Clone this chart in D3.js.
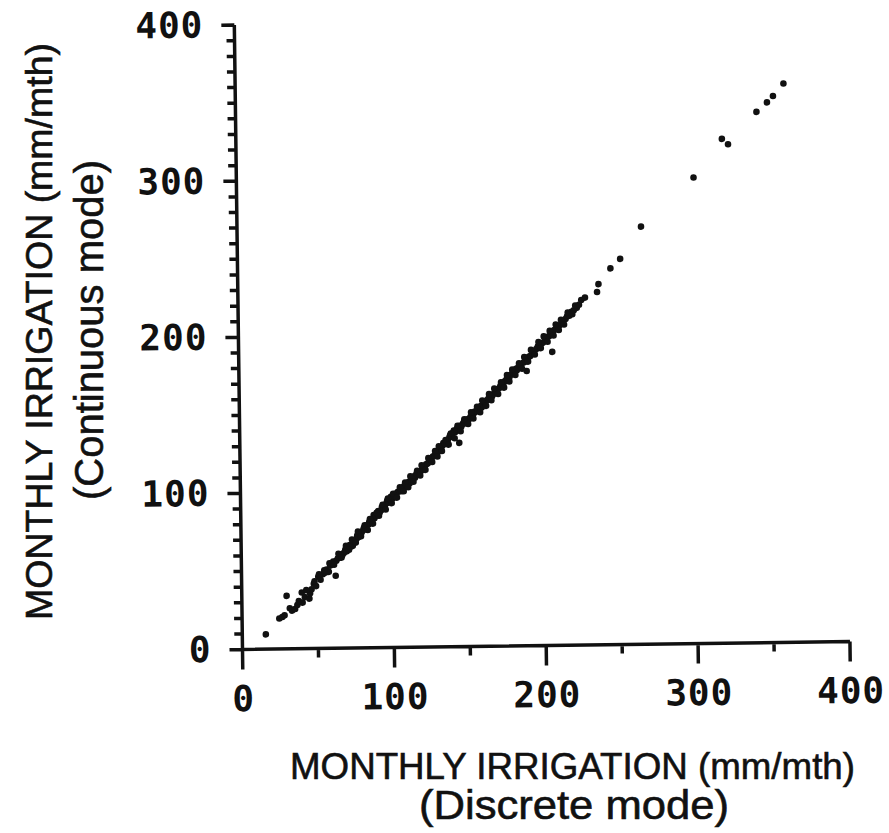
<!DOCTYPE html>
<html>
<head>
<meta charset="UTF-8">
<script src="https://d3js.org/d3.v7.min.js"></script>
<style>
body { margin: 0; background: #fff; }
.tick-label { font-family: "DejaVu Sans Mono", monospace; font-weight: bold; font-size: 36px; fill: #111; letter-spacing: 1px; }
.title { font-family: "Liberation Sans", Arial, sans-serif; fill: #111; stroke: #111; stroke-width: 0.6px; }
</style>
</head>
<body>
<svg width="889" height="833"></svg>
<script>

// monthly irrigation, mm/mth
var discreteMode = [
  15.5, 24.5, 26.5, 28, 29.5, 31.5, 33, 35, 36.5, 40,
  39.5, 41.5, 44.5, 45, 46, 47.5, 49, 50.5, 52, 53.5,
  55, 56, 57.5, 58.5, 60.5, 62, 62.5, 63.5, 64.5, 65.5,
  66.5, 67.5, 68.5, 69.5, 70.5, 71.5, 72.5, 73.5, 74, 75,
  76, 76.5, 77.5, 78.5, 79.5, 80.5, 81, 82, 83, 84,
  84.5, 85.5, 86.5, 87.5, 88, 89, 90, 90.5, 91.5, 92.5,
  93, 94, 95, 96, 96.5, 97.5, 98.5, 99, 100, 101,
  102, 102.5, 103.5, 104.5, 105.5, 106, 107, 108, 109, 110,
  111, 111.5, 112.5, 113.5, 114.5, 115, 116, 117, 118, 119,
  120, 120.5, 121.5, 122.5, 123.5, 124.5, 125, 126, 127, 128,
  129, 129.5, 130.5, 131.5, 132.5, 133.5, 134, 135, 136, 137,
  138, 138.5, 139.5, 140.5, 141, 142, 143, 144, 144.5, 145,
  146, 147, 147.5, 148.5, 149.5, 150, 151, 152, 153, 153.5,
  154.5, 155, 156, 157, 158, 159, 159.5, 160.5, 161, 162,
  163, 164, 165, 165.5, 166.5, 167.5, 168.5, 169.5, 170, 171,
  172, 173, 174, 175, 176, 177, 178, 178.5, 179.5, 180.5,
  181.5, 182.5, 183, 184, 185, 186, 187.5, 188.5, 189.5, 190,
  191, 192, 193.5, 194.5, 196, 197, 198, 199.5, 200.5, 202,
  203, 204.5, 205.5, 206.5, 207, 208, 209.5, 210.5, 211.5, 213,
  214, 215.5, 216.5, 218, 219.5, 221, 223, 226, 228.5, 236.5,
  237.5, 245.5, 252, 266, 301, 320, 324, 343, 350, 354,
  361,
  37.5, 42.5, 48, 51, 54.5, 58, 61, 64, 66, 69,
  71, 73, 75.5, 77, 79, 81.5, 83.5, 85, 87, 89.5,
  91, 93.5, 95.5, 97, 99.5, 100.5, 103, 105, 107.5, 108.5,
  110.5, 112, 114, 116.5, 118.5, 119.5, 122, 124, 126.5, 128.5,
  130, 131, 133, 135.5, 137.5, 139, 141.5, 143.5, 145.5, 148,
  150.5, 152.5, 154, 156.5, 158.5, 160, 162.5, 164.5, 166, 168,
  170.5, 172.5, 174.5, 176.5, 178, 180, 182, 184.5, 186.5, 188,
  190.5, 192.5, 195, 197.5, 199, 201, 203.5, 205, 207.5, 209,
  211, 212.5, 214.5, 217, 220, 222, 224.5
];

var continuousMode = [
  9.5, 19.5, 20.5, 21.5, 34, 26, 24.5, 25.5, 28, 29.5,
  36, 33, 32, 35.5, 38, 41.5, 40, 46, 44, 47.5,
  48.5, 50.5, 49, 53, 55.5, 46.5, 56, 57.5, 58, 60,
  59.5, 61, 63, 62, 64.5, 66, 65, 65.5, 68.5, 69,
  70, 72, 71, 73.5, 74, 75.5, 77, 76, 78.5, 79,
  80.5, 80, 82, 85, 83, 84.5, 86, 87.5, 86.5, 88,
  90, 89.5, 91, 92.5, 94, 93, 95, 96.5, 95.5, 97,
  98.5, 96.5, 99.5, 100, 101.5, 100, 102.5, 103.5, 104, 104.5,
  106, 105, 107.5, 108, 109.5, 108.5, 111, 111.5, 112.5, 113,
  114.5, 113.5, 116, 117, 117.5, 119, 120.5, 120, 122, 122.5,
  124, 125.5, 125, 127, 127.5, 129, 130.5, 130, 132, 132.5,
  134, 135.5, 135, 137, 138.5, 137.5, 139.5, 140, 130.5, 141.5,
  141, 142.5, 143.5, 143, 144.5, 145.5, 145.5, 147, 148.5, 147.5,
  149.5, 150.5, 150.5, 152, 152.5, 154, 153, 155, 156.5, 156,
  157.5, 158.5, 159, 160.5, 160, 161.5, 163, 162.5, 164.5, 165,
  166.5, 167.5, 168, 169.5, 170.5, 171.5, 172, 173.5, 174, 175,
  176, 177.5, 176.5, 178.5, 179.5, 180, 181.5, 182, 176, 184,
  185, 185.5, 187.5, 188, 190, 191.5, 192, 193.5, 194, 196,
  197.5, 198, 199.5, 188, 200.5, 202, 203, 204.5, 205, 206.5,
  208, 209, 210.5, 211, 213.5, 214.5, 216, 221, 222.5, 226,
  231, 241, 247, 267.5, 298.5, 323, 319.5, 340, 346, 350,
  358,
  30.5, 37.5, 43, 47.5, 50, 54.5, 53.5, 60.5, 58, 65.5,
  63, 69.5, 67.5, 74.5, 71.5, 78.5, 75.5, 82.5, 79.5, 86.5,
  84.5, 91.5, 88.5, 95.5, 92.5, 98.5, 96, 102.5, 100, 105.5,
  102.5, 109.5, 106, 113, 110, 116.5, 113.5, 121, 118.5, 125.5,
  122, 128.5, 125.5, 132.5, 129.5, 136.5, 133.5, 141.5, 138, 145.5,
  142.5, 150, 146, 153.5, 150, 157.5, 154, 161.5, 157.5, 165,
  161.5, 169, 165.5, 173.5, 169.5, 177, 173.5, 181, 177.5, 185,
  182, 189.5, 186.5, 194.5, 190.5, 198, 194.5, 201.5, 198.5, 205.5,
  202, 208.5, 205.5, 213, 212, 217.5, 218
];

var majorTicks = [0, 100, 200, 300, 400];
var xMinorTicks = [50, 150, 250, 350];
var yMinorTicks = [10, 20, 30, 40, 50, 60, 70, 80, 90, 110, 120, 130, 140, 150, 160, 170, 180, 190,
                   210, 220, 230, 240, 250, 260, 270, 280, 290, 310, 320, 330, 340, 350, 360, 370, 380, 390];

var svg = d3.select("svg"),
    origin = {x: 242.5, y: 649.5};

var x = d3.scaleLinear().domain([0, 400]).range([origin.x, 850]);
var y = d3.scaleLinear().domain([0, 400]).range([origin.y, 25]);

// the scan is tilted a little, so the whole plot is turned with it
var g = svg.append("g")
    .attr("transform", "rotate(-0.75," + origin.x + "," + origin.y + ")");

// tick labels only, from d3's axes
g.append("g")
    .attr("transform", "translate(" + origin.x + ",0)")
    .call(d3.axisLeft(y).tickValues(majorTicks).tickSize(13).tickPadding(18))
    .call(function(a) { a.select(".domain").remove(); a.selectAll(".tick line").remove(); })
  .selectAll("text")
    .attr("class", "tick-label");

g.append("g")
    .attr("transform", "translate(0," + origin.y + ")")
    .call(d3.axisBottom(x).tickValues(majorTicks).tickSize(20).tickPadding(16))
    .call(function(a) { a.select(".domain").remove(); a.selectAll(".tick line").remove(); })
  .selectAll("text")
    .attr("class", "tick-label");

// axis lines and tick marks in one path
var axisPath = d3.path();
axisPath.moveTo(x(0), y(400));
axisPath.lineTo(x(0), y(0));
axisPath.lineTo(x(400), y(0));
majorTicks.forEach(function(d) {
  axisPath.moveTo(x(0), y(d)); axisPath.lineTo(x(0) - 13, y(d));
  axisPath.moveTo(x(d), y(0)); axisPath.lineTo(x(d), y(0) + 20);
});
yMinorTicks.forEach(function(d) {
  axisPath.moveTo(x(0), y(d)); axisPath.lineTo(x(0) - 8, y(d));
});
xMinorTicks.forEach(function(d) {
  axisPath.moveTo(x(d), y(0)); axisPath.lineTo(x(d), y(0) + 9);
});

g.append("path")
    .attr("d", axisPath.toString())
    .style("fill", "none")
    .style("stroke", "#111")
    .style("stroke-width", "3.5px");

g.append("g")
  .selectAll("circle")
  .data(discreteMode)
  .join("circle")
    .attr("cx", function(d) { return x(d); })
    .attr("cy", function(d, i) { return y(continuousMode[i]); })
    .attr("r", 3.3)
    .attr("fill", "#111");

// axis titles
svg.append("text")
    .attr("class", "title")
    .attr("font-size", 36)
    .attr("x", 572.5).attr("y", 779)
    .attr("text-anchor", "middle")
    .attr("textLength", 565).attr("lengthAdjust", "spacingAndGlyphs")
    .text("MONTHLY IRRIGATION (mm/mth)");

svg.append("text")
    .attr("class", "title")
    .attr("font-size", 40)
    .attr("x", 574).attr("y", 819)
    .attr("text-anchor", "middle")
    .attr("textLength", 310).attr("lengthAdjust", "spacingAndGlyphs")
    .text("(Discrete mode)");

svg.append("text")
    .attr("class", "title")
    .attr("font-size", 37)
    .attr("transform", "translate(52,331.5) rotate(-90)")
    .attr("text-anchor", "middle")
    .attr("textLength", 577).attr("lengthAdjust", "spacingAndGlyphs")
    .text("MONTHLY IRRIGATION (mm/mth)");

svg.append("text")
    .attr("class", "title")
    .attr("font-size", 40)
    .attr("transform", "translate(103,330) rotate(-90)")
    .attr("text-anchor", "middle")
    .attr("textLength", 340).attr("lengthAdjust", "spacingAndGlyphs")
    .text("(Continuous mode)");

</script>
</body>
</html>
